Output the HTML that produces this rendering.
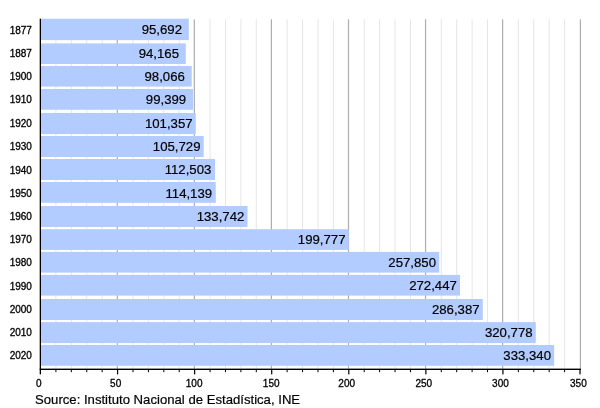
<!DOCTYPE html>
<html><head><meta charset="utf-8"><title>Population chart</title>
<style>
html,body{margin:0;padding:0;background:#fff;}
svg{display:block;position:absolute;left:0;top:0;}
text{font-family:"Liberation Sans",Arial,Helvetica,sans-serif;fill:#000;}
.y{font-size:10px;stroke:#000;stroke-width:0.3px;}
.v{font-size:13.2px;text-anchor:middle;stroke:#000;stroke-width:0.2px;}
.x{font-size:10px;text-anchor:middle;stroke:#000;stroke-width:0.3px;}
.s{font-size:13.15px;stroke:#000;stroke-width:0.2px;}
</style></head><body>
<svg width="600" height="408" viewBox="0 0 600 408">
<rect width="600" height="408" fill="#fff"/>

<rect x="55.41" y="19.3" width="1" height="349.5" fill="#e6e6e6"/>
<rect x="70.83" y="19.3" width="1" height="349.5" fill="#e6e6e6"/>
<rect x="86.24" y="19.3" width="1" height="349.5" fill="#e6e6e6"/>
<rect x="101.66" y="19.3" width="1" height="349.5" fill="#e6e6e6"/>
<rect x="116.67" y="19.3" width="1.2" height="349.5" fill="#adadad"/>
<rect x="132.49" y="19.3" width="1" height="349.5" fill="#e6e6e6"/>
<rect x="147.90" y="19.3" width="1" height="349.5" fill="#e6e6e6"/>
<rect x="163.31" y="19.3" width="1" height="349.5" fill="#e6e6e6"/>
<rect x="178.73" y="19.3" width="1" height="349.5" fill="#e6e6e6"/>
<rect x="193.74" y="19.3" width="1.2" height="349.5" fill="#adadad"/>
<rect x="209.56" y="19.3" width="1" height="349.5" fill="#e6e6e6"/>
<rect x="224.97" y="19.3" width="1" height="349.5" fill="#e6e6e6"/>
<rect x="240.39" y="19.3" width="1" height="349.5" fill="#e6e6e6"/>
<rect x="255.80" y="19.3" width="1" height="349.5" fill="#e6e6e6"/>
<rect x="270.81" y="19.3" width="1.2" height="349.5" fill="#adadad"/>
<rect x="286.63" y="19.3" width="1" height="349.5" fill="#e6e6e6"/>
<rect x="302.04" y="19.3" width="1" height="349.5" fill="#e6e6e6"/>
<rect x="317.46" y="19.3" width="1" height="349.5" fill="#e6e6e6"/>
<rect x="332.87" y="19.3" width="1" height="349.5" fill="#e6e6e6"/>
<rect x="347.89" y="19.3" width="1.2" height="349.5" fill="#adadad"/>
<rect x="363.70" y="19.3" width="1" height="349.5" fill="#e6e6e6"/>
<rect x="379.11" y="19.3" width="1" height="349.5" fill="#e6e6e6"/>
<rect x="394.53" y="19.3" width="1" height="349.5" fill="#e6e6e6"/>
<rect x="409.94" y="19.3" width="1" height="349.5" fill="#e6e6e6"/>
<rect x="424.96" y="19.3" width="1.2" height="349.5" fill="#adadad"/>
<rect x="440.77" y="19.3" width="1" height="349.5" fill="#e6e6e6"/>
<rect x="456.19" y="19.3" width="1" height="349.5" fill="#e6e6e6"/>
<rect x="471.60" y="19.3" width="1" height="349.5" fill="#e6e6e6"/>
<rect x="487.01" y="19.3" width="1" height="349.5" fill="#e6e6e6"/>
<rect x="502.03" y="19.3" width="1.2" height="349.5" fill="#adadad"/>
<rect x="517.84" y="19.3" width="1" height="349.5" fill="#e6e6e6"/>
<rect x="533.26" y="19.3" width="1" height="349.5" fill="#e6e6e6"/>
<rect x="548.67" y="19.3" width="1" height="349.5" fill="#e6e6e6"/>
<rect x="564.09" y="19.3" width="1" height="349.5" fill="#e6e6e6"/>
<rect x="579.80" y="19.3" width="1.2" height="349.5" fill="#adadad"/>
<rect x="40.50" y="18.70" width="148.30" height="21.40" fill="#b3ccff"/>
<text class="y" x="9.7" y="33.73">1877</text>
<text class="v" x="161.80" y="34.34">95,692</text>
<rect x="40.50" y="43.40" width="145.30" height="20.60" fill="#b3ccff"/>
<text class="y" x="9.7" y="57.01">1887</text>
<text class="v" x="158.80" y="57.61">94,165</text>
<rect x="40.50" y="66.00" width="151.20" height="20.60" fill="#b3ccff"/>
<text class="y" x="9.7" y="80.27">1900</text>
<text class="v" x="164.70" y="80.88">98,066</text>
<rect x="40.50" y="89.00" width="152.50" height="20.80" fill="#b3ccff"/>
<text class="y" x="9.7" y="102.54">1910</text>
<text class="v" x="166.00" y="104.14">99,399</text>
<rect x="40.50" y="113.00" width="155.30" height="21.10" fill="#b3ccff"/>
<text class="y" x="9.7" y="126.81">1920</text>
<text class="v" x="168.80" y="128.02">101,357</text>
<rect x="40.50" y="136.00" width="163.20" height="21.00" fill="#b3ccff"/>
<text class="y" x="9.7" y="150.09">1930</text>
<text class="v" x="176.70" y="150.69">105,729</text>
<rect x="40.50" y="159.00" width="174.50" height="21.00" fill="#b3ccff"/>
<text class="y" x="9.7" y="173.85">1940</text>
<text class="v" x="188.00" y="173.95">112,503</text>
<rect x="40.50" y="182.00" width="175.30" height="20.80" fill="#b3ccff"/>
<text class="y" x="9.7" y="196.62">1950</text>
<text class="v" x="188.80" y="197.72">114,139</text>
<rect x="40.50" y="206.00" width="207.00" height="21.00" fill="#b3ccff"/>
<text class="y" x="9.7" y="219.89">1960</text>
<text class="v" x="220.50" y="221.49">133,742</text>
<rect x="40.50" y="229.20" width="308.20" height="20.70" fill="#b3ccff"/>
<text class="y" x="9.7" y="243.16">1970</text>
<text class="v" x="321.70" y="243.76">199,777</text>
<rect x="40.50" y="251.90" width="398.70" height="20.70" fill="#b3ccff"/>
<text class="y" x="9.7" y="266.44">1980</text>
<text class="v" x="412.20" y="267.04">257,850</text>
<rect x="40.50" y="274.90" width="419.50" height="20.70" fill="#b3ccff"/>
<text class="y" x="9.7" y="289.71">1990</text>
<text class="v" x="433.00" y="290.31">272,447</text>
<rect x="40.50" y="299.00" width="442.30" height="21.00" fill="#b3ccff"/>
<text class="y" x="9.7" y="312.98">2000</text>
<text class="v" x="455.80" y="313.57">286,387</text>
<rect x="40.50" y="322.10" width="495.30" height="21.00" fill="#b3ccff"/>
<text class="y" x="9.7" y="336.25">2010</text>
<text class="v" x="508.80" y="336.84">320,778</text>
<rect x="40.50" y="345.00" width="513.70" height="20.80" fill="#b3ccff"/>
<text class="y" x="9.7" y="358.92">2020</text>
<text class="v" x="527.20" y="360.12">333,340</text>
<rect x="39.7" y="18.7" width="1.3" height="355.7" fill="#000"/>
<rect x="39.7" y="368.6" width="541.30" height="1.4" fill="#000"/>
<rect x="55.41" y="369" width="1" height="3.2" fill="#000"/>
<rect x="70.83" y="369" width="1" height="3.2" fill="#000"/>
<rect x="86.24" y="369" width="1" height="3.2" fill="#000"/>
<rect x="101.66" y="369" width="1" height="3.2" fill="#000"/>
<rect x="116.97" y="369" width="1.2" height="5.4" fill="#000"/>
<rect x="132.49" y="369" width="1" height="3.2" fill="#000"/>
<rect x="147.90" y="369" width="1" height="3.2" fill="#000"/>
<rect x="163.31" y="369" width="1" height="3.2" fill="#000"/>
<rect x="178.73" y="369" width="1" height="3.2" fill="#000"/>
<rect x="194.04" y="369" width="1.2" height="5.4" fill="#000"/>
<rect x="209.56" y="369" width="1" height="3.2" fill="#000"/>
<rect x="224.97" y="369" width="1" height="3.2" fill="#000"/>
<rect x="240.39" y="369" width="1" height="3.2" fill="#000"/>
<rect x="255.80" y="369" width="1" height="3.2" fill="#000"/>
<rect x="271.11" y="369" width="1.2" height="5.4" fill="#000"/>
<rect x="286.63" y="369" width="1" height="3.2" fill="#000"/>
<rect x="302.04" y="369" width="1" height="3.2" fill="#000"/>
<rect x="317.46" y="369" width="1" height="3.2" fill="#000"/>
<rect x="332.87" y="369" width="1" height="3.2" fill="#000"/>
<rect x="348.19" y="369" width="1.2" height="5.4" fill="#000"/>
<rect x="363.70" y="369" width="1" height="3.2" fill="#000"/>
<rect x="379.11" y="369" width="1" height="3.2" fill="#000"/>
<rect x="394.53" y="369" width="1" height="3.2" fill="#000"/>
<rect x="409.94" y="369" width="1" height="3.2" fill="#000"/>
<rect x="425.26" y="369" width="1.2" height="5.4" fill="#000"/>
<rect x="440.77" y="369" width="1" height="3.2" fill="#000"/>
<rect x="456.19" y="369" width="1" height="3.2" fill="#000"/>
<rect x="471.60" y="369" width="1" height="3.2" fill="#000"/>
<rect x="487.01" y="369" width="1" height="3.2" fill="#000"/>
<rect x="502.33" y="369" width="1.2" height="5.4" fill="#000"/>
<rect x="517.84" y="369" width="1" height="3.2" fill="#000"/>
<rect x="533.26" y="369" width="1" height="3.2" fill="#000"/>
<rect x="548.67" y="369" width="1" height="3.2" fill="#000"/>
<rect x="564.09" y="369" width="1" height="3.2" fill="#000"/>
<rect x="579.40" y="369" width="1.2" height="5.4" fill="#000"/>
<text class="x" x="38.70" y="387">0</text>
<text class="x" x="115.67" y="387">50</text>
<text class="x" x="194.14" y="387">100</text>
<text class="x" x="271.21" y="387">150</text>
<text class="x" x="346.69" y="387">200</text>
<text class="x" x="423.76" y="387">250</text>
<text class="x" x="500.43" y="387">300</text>
<text class="x" x="578.40" y="387">350</text>
<text class="s" x="35" y="403.7">Source: Instituto Nacional de Estadística, INE</text>
</svg></body></html>
